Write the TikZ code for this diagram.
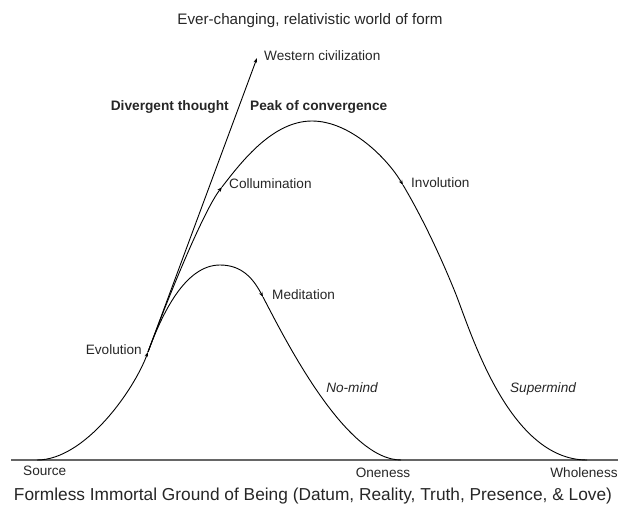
\documentclass[tikz,border=0pt]{standalone}
\usepackage{fontspec}
\setmainfont{Liberation Sans}
\usetikzlibrary{arrows.meta}
\begin{document}
\begin{tikzpicture}[x=1pt,y=-1pt,
  curve/.style={draw=black,line width=0.9pt},
  tipped/.style={curve,-{Stealth[length=5pt,width=3.6pt]}},
  lbl/.style={inner sep=0pt,font=\fontsize{13.6}{16}\selectfont,text=black!85},
  bold/.style={lbl,font=\fontsize{13.7}{16}\selectfont\bfseries},
  ital/.style={lbl,font=\fontsize{13.6}{16}\selectfont\itshape},
  big/.style={inner sep=0pt,font=\fontsize{17.3}{20}\selectfont,text=black!85},
  ttl/.style={inner sep=0pt,font=\fontsize{15.2}{18}\selectfont,text=black!85}]
\useasboundingbox (0,0) rectangle (618,506);
% key points
\coordinate (S) at (37,460);
\coordinate (E) at (148,352);
\coordinate (W) at (257,58);
\coordinate (Q) at (220,265);
\coordinate (M) at (263,297);
\coordinate (O) at (401,460);
\coordinate (C) at (222,187);
\coordinate (P) at (312,121);
\coordinate (I) at (403,185);
\coordinate (J) at (455,292);
\coordinate (H) at (587,460);
\coordinate (BL) at (11,460);
\coordinate (BR) at (618,460);
% baseline
\draw[black!60,line width=1.3pt] (BL) -- (BR);
% shared rise
\draw[tipped] (S) .. controls (85,460) and (134,390) .. (E);
% divergent thought
\draw[tipped] (E) -- (W);
% small curve (meditation)
\draw[curve] (E) .. controls (162,314) and (185,265) .. (Q);
\draw[tipped] (Q) .. controls (243,265) and (254,280) .. (M);
\draw[curve] (M) .. controls (284,337) and (345,460) .. (O);
% large curve (involution)
\draw[tipped] (E) .. controls (169,295) and (204,210) .. (C);
\draw[curve] (C) .. controls (242,161) and (273,121) .. (P);
\draw[tipped] (P) .. controls (350,121) and (387,158) .. (I);
\draw[curve] (I) .. controls (422,217) and (440,255) .. (J);
\draw[curve] (J) .. controls (470,329) and (508,460) .. (H);
% labels
\node[ttl] (title) at (310,21) {Ever-changing, relativistic world of form};
\node[lbl,anchor=mid west] (west) at (264,58) {Western civilization};
\node[bold,anchor=mid east] (div) at (229,108) {Divergent thought};
\node[bold,anchor=mid west] (peak) at (250,108) {Peak of convergence};
\node[lbl,anchor=mid west] (coll) at (229,186) {Collumination};
\node[lbl,anchor=mid west] (inv) at (411,185) {Involution};
\node[lbl,anchor=mid west] (med) at (272,297) {Meditation};
\node[lbl,anchor=mid east] (evo) at (142,352) {Evolution};
\node[ital] (nomind) at (352,388) {No-mind};
\node[ital] (supermind) at (543,389) {Supermind};
\node[lbl,anchor=mid west] (src) at (23,473) {Source};
\node[lbl] (one) at (383,473) {Oneness};
\node[lbl] (whole) at (584,473) {Wholeness};
\node[big] (ground) at (313,496) {Formless Immortal Ground of Being (Datum, Reality, Truth, Presence, \& Love)};
\end{tikzpicture}
\end{document}
